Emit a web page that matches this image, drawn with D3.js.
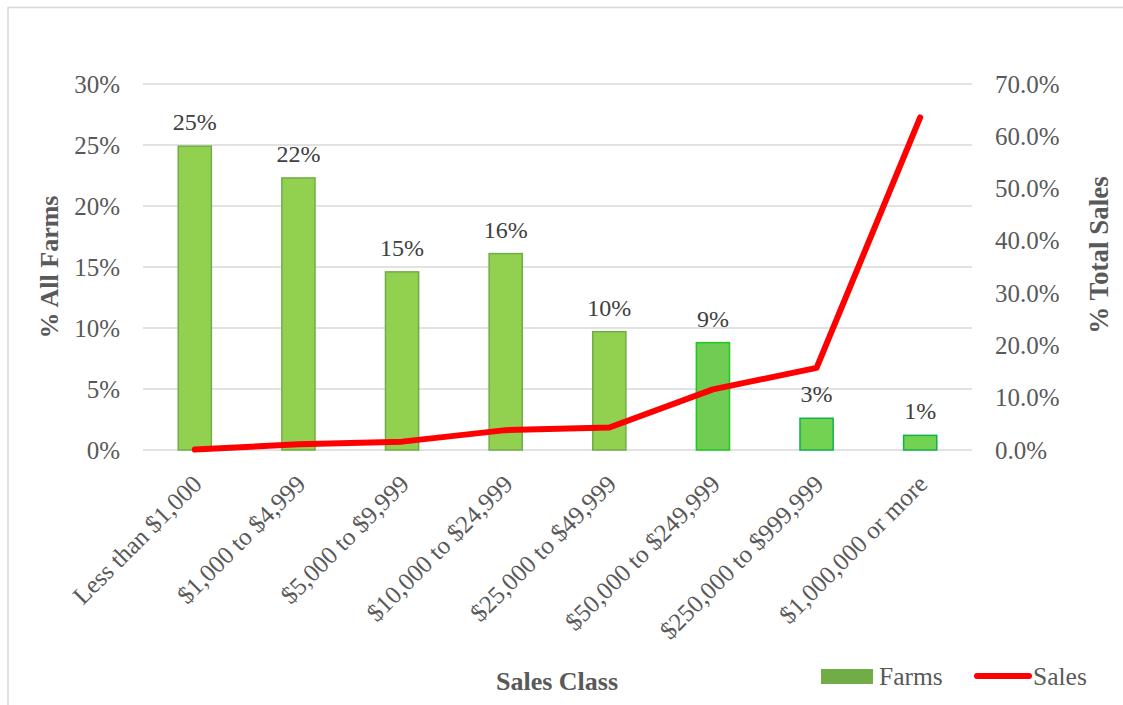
<!DOCTYPE html>
<html>
<head>
<meta charset="utf-8">
<script src="https://cdn.jsdelivr.net/npm/d3@7"></script>
<style>
  body { margin: 0; background: #fff; }
  svg text { font-family: "Liberation Serif", "Times New Roman", serif; }
</style>
</head>
<body>
<div id="chart"></div>
<script>
// chart data
const categories = [
  "Less than $1,000", "$1,000 to $4,999", "$5,000 to $9,999", "$10,000 to $24,999",
  "$25,000 to $49,999", "$50,000 to $249,999", "$250,000 to $999,999", "$1,000,000 or more"
];
const farms = [0.249, 0.223, 0.146, 0.161, 0.097, 0.088, 0.026, 0.012];
const farmLabels = ["25%", "22%", "15%", "16%", "10%", "9%", "3%", "1%"];
const sales = [0.001, 0.011, 0.016, 0.038, 0.043, 0.116, 0.157, 0.636];
const leftTicks = [0, 0.05, 0.10, 0.15, 0.20, 0.25, 0.30];
const rightTicks = [0, 0.1, 0.2, 0.3, 0.4, 0.5, 0.6, 0.7];

const width = 1123, height = 705;
const margin = { top: 84, right: 151, bottom: 255, left: 143 };
const innerW = width - margin.left - margin.right;
const innerH = height - margin.top - margin.bottom;

const svg = d3.select("#chart").append("svg")
  .attr("width", width)
  .attr("height", height);

// outer frame (only top and left edges show)
svg.append("path")
  .attr("d", "M8,705 L8,7.5 L1123,7.5")
  .attr("fill", "none")
  .attr("stroke", "#d9d9d9")
  .attr("stroke-width", 1.5);

const g = svg.append("g").attr("transform", `translate(${margin.left},${margin.top})`);

const x = d3.scaleBand().domain(categories).range([0, innerW]).paddingInner(0.68).paddingOuter(0.34);
const yL = d3.scaleLinear().domain([0, 0.30]).range([innerH, 0]);
const yR = d3.scaleLinear().domain([0, 0.70]).range([innerH, 0]);

// gridlines
g.append("g")
  .selectAll("line")
  .data(leftTicks)
  .join("line")
  .attr("x1", 0)
  .attr("x2", innerW)
  .attr("y1", d => yL(d))
  .attr("y2", d => yL(d))
  .attr("stroke", "#d9d9d9")
  .attr("stroke-width", 1.5);

// left axis labels
const leftAxis = g.append("g")
  .call(d3.axisLeft(yL).tickValues(leftTicks).tickFormat(d3.format(".0%")).tickSize(0).tickPadding(23));
leftAxis.select(".domain").remove();
leftAxis.selectAll("text")
  .attr("font-size", 25)
  .attr("fill", "#595959");

// right axis labels
const rightAxis = g.append("g")
  .attr("transform", `translate(${innerW},0)`)
  .call(d3.axisRight(yR).tickValues(rightTicks).tickFormat(d3.format(".1%")).tickSize(0).tickPadding(23));
rightAxis.select(".domain").remove();
rightAxis.selectAll("text")
  .attr("font-size", 25)
  .attr("fill", "#595959");

// bars
const barFill = ["#92d050", "#92d050", "#92d050", "#92d050", "#92d050", "#70cc52", "#72d352", "#72d352"];
const barStroke = ["#70ad47", "#70ad47", "#70ad47", "#70ad47", "#70ad47", "#1ec81e", "#12b04e", "#12b04e"];
g.append("g")
  .selectAll("rect")
  .data(farms)
  .join("rect")
  .attr("x", (d, i) => x(categories[i]))
  .attr("y", d => yL(d))
  .attr("width", x.bandwidth())
  .attr("height", d => innerH - yL(d))
  .attr("fill", (d, i) => barFill[i])
  .attr("stroke", (d, i) => barStroke[i])
  .attr("stroke-width", 1.5);

// bar labels
g.append("g")
  .selectAll("text")
  .data(farms)
  .join("text")
  .attr("x", (d, i) => x(categories[i]) + x.bandwidth() / 2)
  .attr("y", d => yL(d) - 16)
  .attr("text-anchor", "middle")
  .attr("font-size", 24)
  .attr("fill", "#404040")
  .text((d, i) => farmLabels[i]);

// sales line
const line = d3.line()
  .x((d, i) => x(categories[i]) + x.bandwidth() / 2)
  .y(d => yR(d));
g.append("path")
  .datum(sales)
  .attr("d", line)
  .attr("fill", "none")
  .attr("stroke", "#ff0000")
  .attr("stroke-width", 6)
  .attr("stroke-linecap", "round")
  .attr("stroke-linejoin", "round");

// category labels, rotated
g.append("g")
  .selectAll("text")
  .data(categories)
  .join("text")
  .attr("transform", d => `translate(${x(d) + x.bandwidth() / 2 - 4},${innerH + 23}) rotate(-45)`)
  .attr("text-anchor", "end")
  .attr("dy", "0.71em")
  .attr("font-size", 25)
  .attr("fill", "#595959")
  .text(d => d);

// axis titles
svg.append("text")
  .attr("transform", `translate(49,${margin.top + innerH / 2}) rotate(-90)`)
  .attr("text-anchor", "middle")
  .attr("dy", "0.35em")
  .attr("font-size", 26)
  .attr("font-weight", "bold")
  .attr("fill", "#595959")
  .text("% All Farms");

svg.append("text")
  .attr("transform", `translate(1099,255) rotate(-90)`)
  .attr("text-anchor", "middle")
  .attr("dy", "0.35em")
  .attr("font-size", 27)
  .attr("font-weight", "bold")
  .attr("fill", "#595959")
  .text("% Total Sales");

svg.append("text")
  .attr("x", 557)
  .attr("y", 690)
  .attr("text-anchor", "middle")
  .attr("font-size", 26)
  .attr("font-weight", "bold")
  .attr("fill", "#595959")
  .text("Sales Class");

// legend
const legend = svg.append("g");
legend.append("rect")
  .attr("x", 821).attr("y", 669)
  .attr("width", 52).attr("height", 15)
  .attr("fill", "#70ad47");
legend.append("text")
  .attr("x", 879).attr("y", 685)
  .attr("font-size", 25.5)
  .attr("fill", "#595959")
  .text("Farms");
legend.append("line")
  .attr("x1", 977).attr("x2", 1029)
  .attr("y1", 676).attr("y2", 676)
  .attr("stroke", "#ff0000")
  .attr("stroke-width", 6)
  .attr("stroke-linecap", "round");
legend.append("text")
  .attr("x", 1033).attr("y", 685)
  .attr("font-size", 25.5)
  .attr("fill", "#595959")
  .text("Sales");
</script>
</body>
</html>
